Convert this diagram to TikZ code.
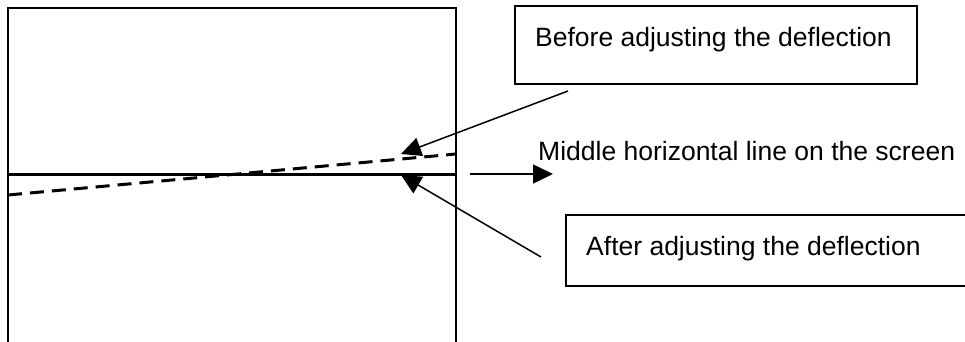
\documentclass[tikz,border=0pt]{standalone}
\usepackage{fontspec}
\setmainfont{Liberation Sans}
\usetikzlibrary{arrows.meta}
\tikzset{
  lbl/.style={anchor=base west, inner sep=0pt, font=\fontsize{26.5}{30}\selectfont},
  frame/.style={draw, line width=1.6pt, anchor=north west, inner sep=0pt},
  pointer/.style={line width=1.5pt, -{Triangle[length=20pt,width=19pt]}},
  screen/.style={line width=2.4pt},
}
\begin{document}
\begin{tikzpicture}[x=1pt,y=-1pt]
\useasboundingbox (0,0) rectangle (965,342);
\clip (0,0) rectangle (965,342);
% screen outline
\draw[screen] (8,360) -- (8,8) -- (456,8) -- (456,360);
% middle horizontal line and deflected (dashed) line
\coordinate (hl) at (8,174);
\coordinate (hr) at (456,174);
\draw[line width=3pt] (hl) -- (hr);
\coordinate (dl) at (8,195);
\coordinate (dr) at (456,154);
\draw[line width=3pt, dash pattern=on 14pt off 8pt] (dl) -- (dr);
% boxes
\node[frame, minimum width=402pt, minimum height=78pt] (box1) at (514,5) {};
\node[lbl] (t1) at (535,47) {Before adjusting the deflection};
\node[frame, minimum width=405pt, minimum height=71pt] (box2) at (565,214) {};
\node[lbl] (t2) at (586,255) {After adjusting the deflection};
\node[lbl] (t3) at (538,160) {Middle horizontal line on the screen};
% arrows
\coordinate (s1) at (568,91);
\coordinate (e1) at (401,154);
\draw[pointer] (s1) -- (e1);
\coordinate (s2) at (541,257);
\coordinate (e2) at (401,175);
\draw[pointer] (s2) -- (e2);
\coordinate (s3) at (470,174);
\coordinate (e3) at (553,174);
\draw[pointer] (s3) -- (e3);
\end{tikzpicture}
\end{document}
